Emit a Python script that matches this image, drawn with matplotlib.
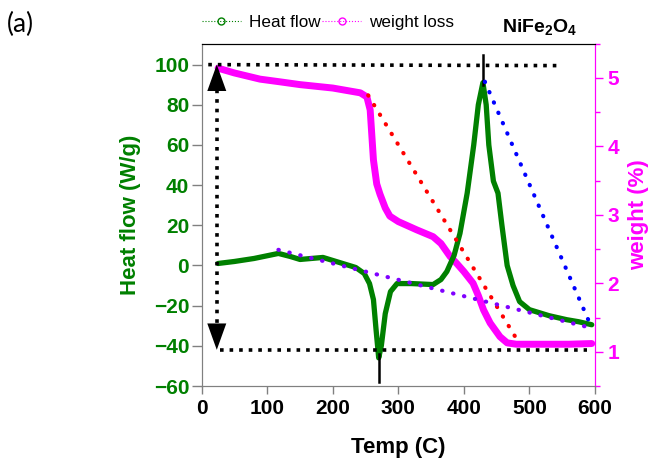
import matplotlib
matplotlib.use("Agg")
import matplotlib.pyplot as plt
from matplotlib.lines import Line2D
from matplotlib.ticker import MultipleLocator

plt.rcParams['font.family'] = ['Liberation Sans', 'DejaVu Sans']
plt.rcParams['mathtext.fontset'] = 'custom'
plt.rcParams['mathtext.rm'] = 'Liberation Sans'
plt.rcParams['mathtext.bf'] = 'Liberation Sans:bold'

GREEN = '#008000'
MAGENTA = '#ff00ff'

# heat flow (left axis)
hf_temp = [25, 50, 80, 117, 135, 150, 185, 215, 235, 248, 256, 262, 266, 270,
           274, 280, 288, 298, 320, 353, 365, 374, 385, 394, 405, 415, 422, 429,
           434, 438, 445, 452, 458, 466, 475, 485, 500, 530, 557, 575, 595]
hf_val = [1, 2, 3.5, 6, 4.5, 3, 4, 1, -1, -4, -9, -17, -32, -46,
          -40, -24, -13, -9, -9, -9.5, -7, -3, 5, 16, 36, 60, 80, 91,
          80, 60, 42, 36, 20, 0, -10, -18, -22, -25, -27, -28, -29.5]

# weight loss (right axis)
wl_temp = [25, 50, 89, 120, 150, 200, 242, 252, 257, 262, 267, 272, 280, 287,
           300, 328, 353, 365, 379, 389, 400, 414, 422, 430, 440, 455, 466,
           480, 520, 560, 595]
wl_val = [5.14, 5.07, 4.98, 4.94, 4.90, 4.85, 4.78, 4.72, 4.53, 3.8, 3.45, 3.3,
          3.1, 2.98, 2.9, 2.78, 2.68, 2.58, 2.39, 2.29, 2.17, 2.0, 1.82, 1.61,
          1.42, 1.22, 1.13, 1.11, 1.11, 1.11, 1.12]

# guide lines drawn on the heat-flow scale
top_line = ([10, 550], [100, 99.5])
bottom_line = ([28, 588], [-42, -42])
vert_line = ([23, 23], [-38, 96])
red_line = ([254, 478], [84.7, -35.3])
blue_line = ([432, 593], [91.5, -29.5])
purple_line = ([117, 593], [7.8, -31])
peak_marks = [([270, 270], [-44, -58]), ([429, 429], [90, 105])]

fig = plt.figure(figsize=(6.49, 4.68), dpi=100)
ax = fig.add_axes([0.3108, 0.1752, 0.606, 0.7318])
ax2 = ax.twinx()

ax.plot(hf_temp, hf_val, color=GREEN, lw=3.8, solid_capstyle='round', zorder=3)
ax2.plot(wl_temp, wl_val, color=MAGENTA, lw=5, solid_capstyle='round', zorder=3)

dot_k = dict(color='k', lw=2.6, ls=':', dash_capstyle='butt', zorder=5)
ax.plot(*top_line, **dot_k)
ax.plot(*bottom_line, **dot_k)
ax.plot(*vert_line, **dot_k)
for xs, ys in peak_marks:
    ax.plot(xs, ys, color='k', lw=1.8, zorder=5)

dot_c = dict(lw=3, ls=(0, (0.1, 2.6)), dash_capstyle='round', zorder=6)
ax.plot(*red_line, color='#ff0000', **dot_c)
ax.plot(*blue_line, color='#0000ff', **dot_c)
ax.plot(*purple_line, color='#8000ff', **dot_c)

# arrow heads on the vertical dotted line
head = dict(arrowstyle='-|>,head_length=1.0,head_width=0.36', mutation_scale=19,
            color='k', lw=0, shrinkA=0, shrinkB=0)
ax.annotate('', xy=(23, 100), xytext=(23, 86), arrowprops=head, zorder=7)
ax.annotate('', xy=(23, -42), xytext=(23, -28), arrowprops=head, zorder=7)

# heat-flow axes drawn on top of the weight axes
ax.set_zorder(ax2.get_zorder() + 1)
ax.patch.set_visible(False)

ax.set_xlim(0, 600)
ax.set_ylim(-60, 110.5)
ax2.set_ylim(0.5, 5.5)

ax.xaxis.set_major_locator(MultipleLocator(100))
ax.set_yticks(range(-60, 101, 20))
ax2.set_yticks([1, 2, 3, 4, 5])
ax2.yaxis.set_minor_locator(MultipleLocator(0.5))

ax.tick_params(axis='y', direction='out', length=7, width=1, color='#808080',
               labelcolor=GREEN, labelsize=15, pad=2)
ax.tick_params(axis='x', direction='out', length=6, width=1, color='#808080',
               labelsize=15, pad=3)
ax2.tick_params(axis='y', which='major', direction='out', length=6, width=1,
                color=MAGENTA, labelcolor=MAGENTA, labelsize=15, pad=3)
ax2.tick_params(axis='y', which='minor', direction='out', length=3.5, width=1,
                color=MAGENTA)
for lab in ax.get_xticklabels() + ax.get_yticklabels() + ax2.get_yticklabels():
    lab.set_fontweight('bold')

for a in (ax, ax2):
    a.spines['left'].set_color('#808080')
    a.spines['bottom'].set_color('#808080')
    a.spines['top'].set_color('k')
    a.spines['right'].set_color(MAGENTA)

ax.set_xlabel('Temp (C)', fontsize=16, fontweight='bold', labelpad=14)
ax.set_ylabel('Heat flow (W/g)', fontsize=16, fontweight='bold', color=GREEN,
              labelpad=9)
ax2.set_ylabel('weight (%)', fontsize=16, fontweight='bold', color=MAGENTA,
               labelpad=6)

handles = [Line2D([], [], color=GREEN, ls=':', lw=0.8, marker='o', mfc='none',
                  ms=5, mew=1),
           Line2D([], [], color=MAGENTA, ls=':', lw=0.8, marker='o', mfc='none',
                  ms=5, mew=1)]
fig.legend(handles, ['Heat flow', 'weight loss'], loc='center left',
           bbox_to_anchor=(0.3108, 0.951), bbox_transform=fig.transFigure,
           ncol=2, frameon=False, fontsize=12.3, handlelength=2.3,
           handletextpad=0.45, columnspacing=0.1, borderpad=0, borderaxespad=0)

fig.text(0.773, 0.932, r'$\mathbf{NiFe_2O_4}$', fontsize=14, va='baseline')
fig.text(0.011, 0.947, '(a)', fontsize=19, va='center', family=['Lato', 'DejaVu Sans'])

fig.savefig('out.png', dpi=100)
